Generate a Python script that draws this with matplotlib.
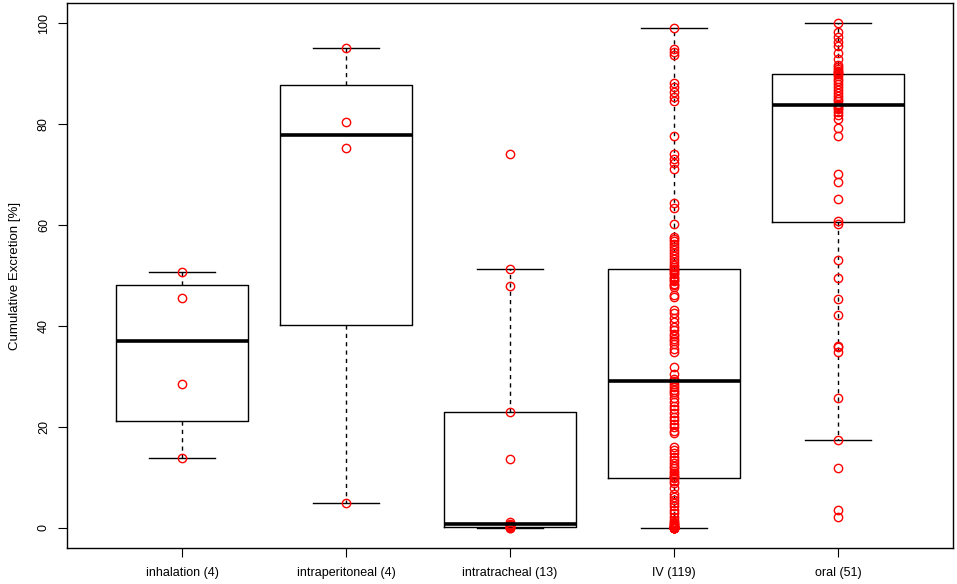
import matplotlib
matplotlib.use("Agg")
import matplotlib.pyplot as plt
import numpy as np

plt.rcParams['font.family'] = ['Liberation Sans', 'DejaVu Sans']

groupNames = ["inhalation (4)", "intraperitoneal (4)", "intratracheal (13)", "IV (119)", "oral (51)"]

inhalation = [13.8, 28.6, 45.5, 50.6]
intraperitoneal = [5.0, 75.2, 80.5, 95.0]
intratracheal = [0.0, 0.0, 0.1, 0.2, 0.4, 0.6, 0.8, 1.1, 13.6, 23.0, 48.0, 51.2, 74.1]
iv = [0.0, 0.0, 0.0, 0.0, 0.0, 0.0, 0.0, 0.0, 0.1, 0.1,
      0.2, 0.3, 0.4, 0.5, 0.7, 0.9, 1.2, 1.5, 2.2, 2.9,
      3.6, 4.3, 4.9, 5.5, 6.2, 6.8, 7.9, 8.8, 9.3, 9.8,
      10.0, 10.1, 10.4, 10.8, 11.2, 11.8, 12.3, 12.9, 13.5, 14.1,
      14.8, 15.4, 16.0, 18.7, 19.2, 19.9, 20.6, 21.3, 22.0, 22.8,
      23.5, 24.2, 25.0, 25.8, 26.5, 26.9, 27.3, 28.0, 28.6, 29.0,
      29.5, 30.5, 31.9, 34.9, 35.5, 36.5, 37.0, 37.5, 38.0, 38.5,
      39.2, 39.8, 40.8, 41.5, 42.5, 43.1, 45.7, 46.1, 47.8, 48.1,
      48.4, 48.9, 49.2, 49.5, 49.8, 50.2, 50.5, 50.8, 51.1, 51.3,
      51.6, 52.1, 52.6, 53.2, 53.8, 54.4, 55.0, 55.7, 56.3, 56.8,
      57.2, 57.7, 60.3, 63.3, 64.3, 71.2, 72.2, 73.1, 74.1, 77.6,
      84.6, 85.4, 86.4, 87.3, 88.1, 93.6, 94.2, 94.8, 99.0]
oral = [2.2, 3.5, 11.9, 17.4, 25.8, 34.9, 35.9, 36.0, 42.2, 45.3,
        49.5, 53.1, 60.3, 60.8, 65.1, 68.6, 70.2, 77.6, 79.3, 81.1,
        81.8, 82.4, 82.9, 83.2, 83.5, 83.7, 84.0, 84.5, 85.0, 85.6,
        86.2, 86.8, 87.3, 87.9, 88.5, 89.0, 89.5, 89.9, 90.1, 90.3,
        90.6, 90.9, 91.3, 91.8, 92.9, 94.1, 95.4, 96.3, 97.3, 98.3,
        100.0]

groups = [inhalation, intraperitoneal, intratracheal, iv, oral]


def tukeyStats(values, label):
    # R style boxplot stats: fivenum hinges, whiskers at 1.5 * IQR
    x = np.sort(np.asarray(values, float))
    n = x.size
    n4 = np.floor((n + 3) / 2) / 2
    d = np.array([1, n4, (n + 1) / 2, n + 1 - n4, n])
    lo = x[np.floor(d).astype(int) - 1]
    hi = x[np.ceil(d).astype(int) - 1]
    q = 0.5 * (lo + hi)
    iqr = q[3] - q[1]
    inside = x[(x >= q[1] - 1.5 * iqr) & (x <= q[3] + 1.5 * iqr)]
    return {"label": label, "med": q[2], "q1": q[1], "q3": q[3],
            "whislo": inside.min(), "whishi": inside.max(), "fliers": []}


stats = [tukeyStats(g, name) for g, name in zip(groups, groupNames)]

fig = plt.figure(figsize=(9.57, 5.84), dpi=100)
ax = fig.add_axes([0.0703, 0.0616, 0.9252, 0.9333])

ax.bxp(stats, positions=range(1, 6), widths=0.8, showfliers=False,
       boxprops=dict(color="black", linewidth=1.0),
       medianprops=dict(color="black", linewidth=2.6),
       whiskerprops=dict(color="black", linewidth=1.0, linestyle=(0, (3, 3))),
       capprops=dict(color="black", linewidth=1.0),
       capwidths=0.4)

for i, g in enumerate(groups):
    ax.plot(np.full(len(g), i + 1), g, "o", markersize=6, markerfacecolor="none",
            markeredgecolor="red", markeredgewidth=1.0)

ax.set_xlim(0.3, 5.7)
ax.set_ylim(-4, 104)
ax.set_yticks([0, 20, 40, 60, 80, 100])
ax.set_xticks(range(1, 6))
ax.set_xticklabels(groupNames)
for lab in ax.get_yticklabels():
    lab.set_rotation(90)
    lab.set_verticalalignment("center")
ax.tick_params(axis="both", labelsize=9, length=6.5, width=0.8, color="black")
ax.tick_params(axis="x", pad=7)
ax.tick_params(axis="y", pad=6)
ax.set_ylabel("Cumulative Excretion [%]", fontsize=9.5, labelpad=12)
for s in ax.spines.values():
    s.set_linewidth(1.0)

fig.savefig("out.png", dpi=100)
